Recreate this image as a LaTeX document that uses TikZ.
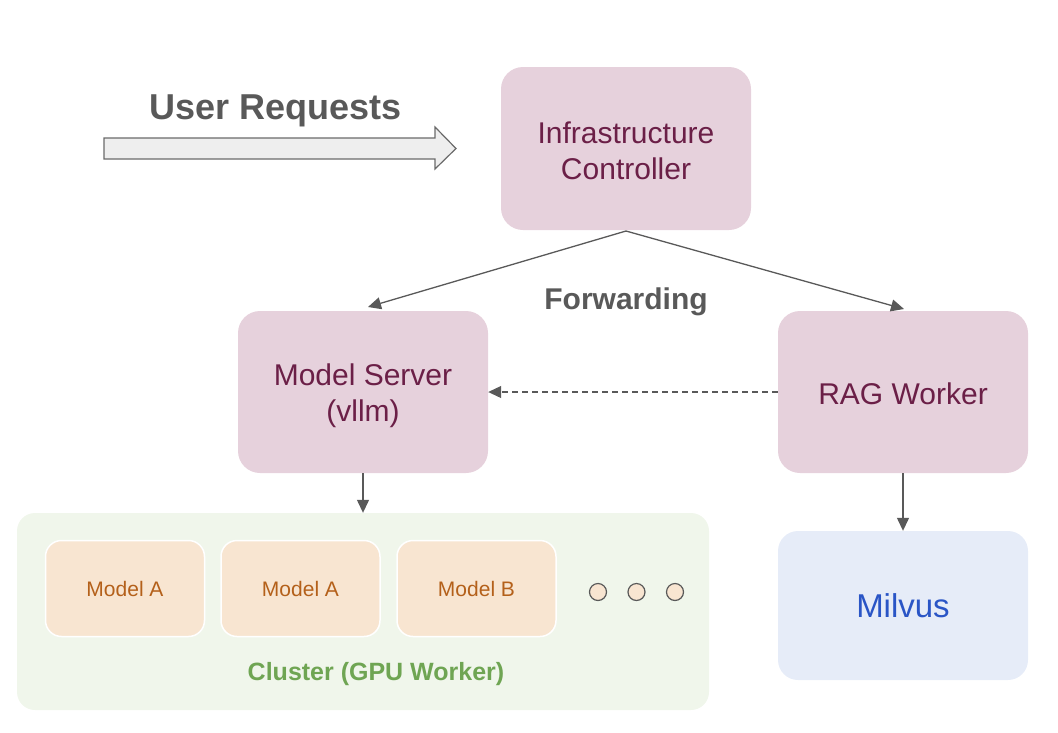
\documentclass[tikz,border=0pt]{standalone}
\usepackage{fontspec}
\setmainfont{Liberation Sans}
\usetikzlibrary{arrows.meta}
\definecolor{pinkfill}{HTML}{E6D1DC}
\definecolor{pinktext}{HTML}{6B1F47}
\definecolor{orfill}{HTML}{F8E5D1}
\definecolor{ortext}{HTML}{B4601A}
\definecolor{grfill}{HTML}{F0F6EB}
\definecolor{grtext}{HTML}{6FA553}
\definecolor{blfill}{HTML}{E6ECF8}
\definecolor{bltext}{HTML}{2A55C6}
\definecolor{linec}{HTML}{595959}
\definecolor{arrfill}{HTML}{EEEEEE}
\tikzset{
  pinkbox/.style={fill=pinkfill, draw=none, rounded corners=22pt, minimum width=250pt, minimum height=163pt, inner sep=0pt},
  pinktxt/.style={text=pinktext, align=center, font=\fontsize{30}{36}\selectfont, inner sep=0pt},
  modelbox/.style={fill=orfill, draw=white, line width=1.5pt, rounded corners=16pt, minimum width=159pt, minimum height=96pt, text=ortext, font=\fontsize{21}{25}\selectfont, inner sep=0pt},
  dotc/.style={circle, fill=orfill, draw=linec, line width=1.2pt, minimum size=17pt, inner sep=0pt},
  conn/.style={draw=linec, line width=1.3pt, -{Triangle[length=13pt,width=12pt]}},
  lbl/.style={text=linec, font=\bfseries\fontsize{30}{36}\selectfont, inner sep=0pt},
}
\begin{document}
\begin{tikzpicture}[x=1pt,y=-1pt]
\useasboundingbox (0,0) rectangle (1058,732);
% user request arrow
\draw[draw=linec!90, fill=arrfill, line width=1.2pt] (104,138) -- (435,138) -- (435,127) -- (456,148.5) -- (435,169) -- (435,159) -- (104,159) -- cycle;
\node[lbl, font=\bfseries\fontsize{36}{42}\selectfont] (ureq) at (276,111) {User Requests};
% main boxes
\node[pinkbox] (ic) at (626,148.5) {};
\node[pinktxt] (ictxt) at (626,151) {Infrastructure\\Controller};
\node[pinkbox, minimum height=162pt] (ms) at (363,392) {};
\node[pinktxt] (mstxt) at (363,396) {Model Server\\(vllm)};
\node[pinkbox, minimum height=162pt] (rag) at (903,392) {};
\node[pinktxt] (ragtxt) at (903,394) {RAG Worker};
% cluster
\node[fill=grfill, draw=none, rounded corners=18pt, minimum width=692pt, minimum height=197pt, inner sep=0pt] (cl) at (363,611.5) {};
\node[modelbox] (m1) at (125,588.5) {Model A};
\node[modelbox] (m2) at (300.5,588.5) {Model A};
\node[modelbox] (m3) at (476.5,588.5) {Model B};
\node[dotc] (d1) at (598,592) {};
\node[dotc] (d2) at (636.5,592) {};
\node[dotc] (d3) at (675,592) {};
\node[text=grtext, font=\bfseries\fontsize{25}{30}\selectfont, inner sep=0pt] (cllbl) at (376,674) {Cluster (GPU Worker)};
% milvus
\node[fill=blfill, draw=none, rounded corners=20pt, minimum width=250pt, minimum height=149pt, inner sep=0pt, text=bltext, font=\fontsize{33}{40}\selectfont] (mil) at (903,605.5) {Milvus};
% connectors
\coordinate (icb) at (626,231);
\draw[conn] (icb) -- (368,307);
\draw[conn] (icb) -- (904,309);
\node[lbl] (fwd) at (626,302) {Forwarding};
\draw[conn, dashed, dash pattern=on 6pt off 4pt, line width=1.1pt] (rag.west) -- (ms.east);
\draw[conn] (ms.south) -- (cl.north);
\draw[conn] (rag.south) -- (mil.north);
\end{tikzpicture}
\end{document}
